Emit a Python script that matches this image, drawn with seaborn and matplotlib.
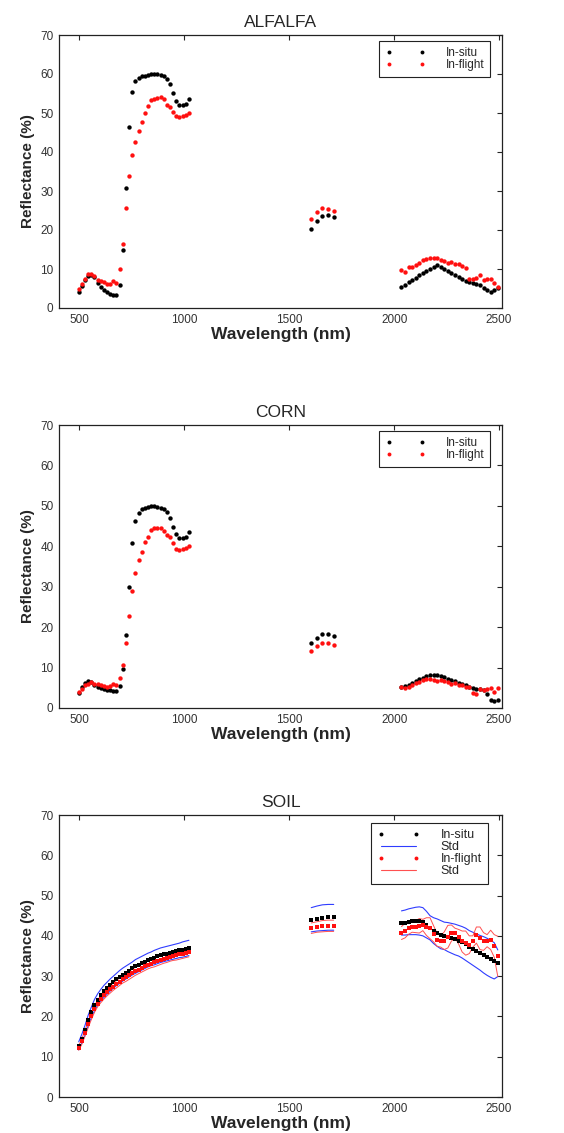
import matplotlib
matplotlib.use("Agg")
import matplotlib.pyplot as plt
from matplotlib.lines import Line2D
import pandas as pd
import seaborn as sns

# band centres (nm) of the three spectral windows
WL_VNIR = [497, 512, 527, 542, 557, 572, 587, 602, 617, 632, 647, 662, 677, 692, 707, 722, 737, 752,
           767, 782, 797, 812, 827, 842, 857, 872, 887, 902, 917, 932, 947, 962, 977, 992, 1007, 1022]
WL_SWIR1 = [1605, 1632, 1658, 1685, 1712]
WL_SWIR2 = [2035, 2052, 2069, 2086, 2103, 2120, 2137, 2154, 2171, 2188, 2205, 2222, 2239, 2256,
            2273, 2290, 2307, 2324, 2341, 2358, 2375, 2392, 2409, 2426, 2443, 2460, 2477, 2494]

# ALFALFA
alfalfa_insitu_vnir = [4.0, 5.6, 7.2, 8.3, 8.5, 8.0, 6.3, 5.3, 4.6, 4.0, 3.6, 3.3, 3.3, 6.0, 14.8, 30.7, 46.3, 55.3,
                       58.3, 59.1, 59.4, 59.6, 59.8, 60.0, 60.1, 60.0, 59.8, 59.4, 58.8, 57.4, 55.2, 53.2, 52.0, 52.0, 52.4, 53.5]
alfalfa_inflight_vnir = [5.0, 6.1, 7.5, 8.7, 8.7, 8.2, 7.3, 7.0, 6.6, 6.2, 6.2, 7.0, 6.5, 10.0, 16.4, 25.6, 33.9, 39.3,
                         42.5, 45.4, 47.7, 50.0, 51.8, 53.3, 53.6, 53.8, 54.0, 53.6, 52.0, 51.5, 50.3, 49.3, 49.0, 49.2, 49.4, 50.0]
alfalfa_insitu_swir1 = [20.2, 22.2, 23.6, 23.8, 23.3]
alfalfa_inflight_swir1 = [22.8, 24.6, 25.6, 25.4, 25.0]
alfalfa_insitu_swir2 = [5.5, 6.0, 6.6, 7.2, 7.8, 8.4, 9.0, 9.6, 10.1, 10.6, 10.9, 10.5, 10.0, 9.5,
                        9.0, 8.5, 8.0, 7.5, 7.0, 6.6, 6.3, 6.1, 5.8, 5.2, 4.6, 4.1, 4.6, 5.2]
alfalfa_inflight_swir2 = [9.8, 9.2, 10.6, 10.6, 11.0, 11.5, 12.4, 12.6, 12.7, 12.8, 12.7, 12.4, 12.0, 11.6,
                          11.7, 11.4, 11.2, 10.8, 10.3, 7.5, 7.4, 7.6, 8.5, 7.2, 7.5, 7.4, 6.4, 5.4]

# CORN
corn_insitu_vnir = [3.7, 5.2, 6.1, 6.6, 6.4, 5.7, 5.2, 4.9, 4.7, 4.5, 4.4, 4.2, 4.1, 5.4, 9.7, 18.0, 30.0, 40.9,
                    46.2, 48.3, 49.1, 49.5, 49.8, 49.9, 49.9, 49.8, 49.5, 49.1, 48.6, 46.9, 44.8, 43.0, 42.0, 42.0, 42.4, 43.5]
corn_inflight_vnir = [4.0, 4.8, 5.6, 6.0, 6.4, 5.9, 5.9, 5.6, 5.4, 5.3, 5.5, 5.9, 5.8, 7.3, 10.6, 16.1, 22.7, 29.0,
                      33.5, 36.6, 38.5, 41.0, 42.4, 44.0, 44.4, 44.6, 44.5, 43.9, 42.8, 42.4, 40.9, 39.3, 39.1, 39.3, 39.6, 40.0]
corn_insitu_swir1 = [16.0, 17.3, 18.2, 18.2, 17.8]
corn_inflight_swir1 = [14.1, 15.4, 16.1, 16.1, 15.7]
corn_insitu_swir2 = [5.2, 5.4, 5.8, 6.3, 6.7, 7.1, 7.5, 7.9, 8.1, 8.2, 8.2, 8.0, 7.6, 7.2,
                     6.9, 6.6, 6.3, 6.0, 5.7, 5.3, 5.0, 4.8, 4.6, 4.5, 3.5, 2.0, 1.8, 1.9]
corn_inflight_swir2 = [5.1, 5.0, 5.3, 5.8, 6.2, 6.5, 6.9, 7.1, 7.2, 6.9, 6.6, 6.9, 6.6, 6.4,
                       6.0, 6.3, 5.8, 5.6, 5.3, 5.2, 3.6, 3.4, 4.6, 4.4, 4.8, 4.9, 4.0, 4.9]

# SOIL (means and standard deviations)
soil_insitu_vnir = [12.7, 14.5, 16.6, 19.0, 21.0, 22.8, 24.2, 25.3, 26.2, 27.0, 27.8, 28.5, 29.2, 29.8, 30.4, 30.9, 31.4, 31.9,
                    32.4, 32.8, 33.2, 33.6, 34.0, 34.3, 34.6, 34.9, 35.2, 35.4, 35.6, 35.8, 36.0, 36.2, 36.4, 36.6, 36.8, 37.0]
soil_insitu_std_vnir = [1.0, 1.1, 1.2, 1.3, 1.3, 1.4, 1.4, 1.4, 1.5, 1.5, 1.5, 1.5, 1.5, 1.6, 1.6, 1.6, 1.6, 1.6,
                        1.7, 1.7, 1.7, 1.7, 1.7, 1.7, 1.8, 1.8, 1.8, 1.8, 1.8, 1.8, 1.8, 1.8, 1.8, 1.9, 1.9, 1.9]
soil_inflight_vnir = [12.2, 13.8, 15.8, 18.0, 20.0, 21.8, 23.2, 24.3, 25.2, 26.0, 26.7, 27.4, 28.0, 28.6, 29.2, 29.7, 30.2, 30.7,
                      31.2, 31.6, 32.0, 32.4, 32.8, 33.1, 33.4, 33.7, 34.0, 34.3, 34.5, 34.8, 35.0, 35.2, 35.4, 35.6, 35.8, 36.0]
soil_inflight_std_vnir = [0.6, 0.7, 0.7, 0.8, 0.8, 0.8, 0.8, 0.9, 0.9, 0.9, 0.9, 0.9, 0.9, 0.9, 0.9, 1.0, 1.0, 1.0,
                          1.0, 1.0, 1.0, 1.0, 1.0, 1.0, 1.1, 1.1, 1.1, 1.1, 1.1, 1.1, 1.1, 1.2, 1.2, 1.2, 1.2, 1.2]
soil_insitu_swir1 = [44.0, 44.3, 44.5, 44.6, 44.6]
soil_insitu_std_swir1 = [3.0, 3.1, 3.2, 3.2, 3.2]
soil_inflight_swir1 = [41.9, 42.2, 42.4, 42.5, 42.5]
soil_inflight_std_swir1 = [1.3, 1.3, 1.4, 1.4, 1.4]
soil_insitu_swir2 = [43.2, 43.3, 43.5, 43.6, 43.7, 43.7, 43.5, 42.8, 42.0, 41.3, 40.8, 40.3, 40.0, 39.7,
                     39.4, 39.1, 38.8, 38.4, 37.9, 37.3, 36.8, 36.3, 35.8, 35.3, 34.8, 34.3, 33.8, 33.2]
soil_insitu_std_swir2 = [3.0, 3.1, 3.2, 3.3, 3.4, 3.5, 3.5, 3.3, 3.0, 3.2, 3.4, 3.5, 3.4, 3.6,
                         3.7, 3.8, 3.8, 3.9, 4.0, 4.0, 4.1, 4.2, 4.3, 4.5, 4.6, 4.6, 4.5, 3.3]
soil_inflight_swir2 = [40.7, 41.3, 41.9, 42.1, 42.3, 42.5, 42.7, 42.3, 41.9, 40.5, 39.0, 38.6, 38.8, 39.8,
                       40.7, 40.7, 39.8, 38.6, 38.2, 37.8, 38.6, 40.2, 39.4, 38.6, 38.8, 39.0, 37.5, 34.9]
soil_inflight_std_swir2 = [1.6, 1.8, 1.5, 1.2, 1.5, 1.8, 1.4, 2.2, 2.6, 2.0, 1.6, 1.4, 2.2, 2.8,
                           2.0, 1.2, 1.8, 2.6, 3.0, 2.2, 1.4, 2.0, 2.8, 2.2, 1.5, 2.4, 2.8, 5.0]

WAVELENGTHS = WL_VNIR + WL_SWIR1 + WL_SWIR2
SEGMENTS = ["vnir"] * len(WL_VNIR) + ["swir1"] * len(WL_SWIR1) + ["swir2"] * len(WL_SWIR2)

BLUE = "#2f3cff"
RED = "#ff1010"
STD_RED = "#ff5050"
FONT = ["Liberation Sans", "DejaVu Sans"]

sns.set_theme(style="white")
plt.rcParams["font.family"] = FONT


def spectrum(vnir, swir1, swir2, std=None):
    df = pd.DataFrame({"wavelength": WAVELENGTHS, "reflectance": vnir + swir1 + swir2, "segment": SEGMENTS})
    if std is not None:
        df["std"] = std[0] + std[1] + std[2]
    return df


def std_bounds(df):
    upper = df.assign(value=df["reflectance"] + df["std"], unit=df["segment"] + "_up")
    lower = df.assign(value=df["reflectance"] - df["std"], unit=df["segment"] + "_lo")
    return pd.concat([upper, lower], ignore_index=True)


def style_axes(ax, title):
    ax.set_xlim(403, 2514)
    ax.set_ylim(0, 70)
    ax.set_xticks([500, 1000, 1500, 2000, 2500])
    ax.set_yticks(range(0, 71, 10))
    ax.tick_params(direction="in", top=True, right=True, length=3.5, width=0.8,
                   labelsize=8.5, labelcolor="#333333", pad=4)
    for sp in ax.spines.values():
        sp.set_color("#222222")
        sp.set_linewidth(0.9)
    ax.set_title(title, fontsize=12.5, pad=6)
    ax.set_xlabel("Wavelength (nm)", fontsize=12.5, fontweight="bold", labelpad=1)
    ax.set_ylabel("Reflectance (%)", fontsize=11, fontweight="bold", labelpad=4)


def dot_handle(color):
    return Line2D([0], [0], ls="none", marker="o", ms=2.8, color=color, mew=0)


def px_axes(fig, top, bottom, left=59, right=502, W=564, H=1133):
    return fig.add_axes([left / W, 1 - bottom / H, (right - left) / W, (bottom - top) / H])


def add_legend(ax, handles, labels, inset_x, inset_y, h, fontsize):
    leg = ax.legend(handles, labels, loc="upper right",
                    bbox_to_anchor=(1 - inset_x / 443, 1 - inset_y / h),
                    numpoints=2, fontsize=fontsize, handlelength=3.4, handletextpad=1.7,
                    labelspacing=0.0, borderpad=0.5, fancybox=False, framealpha=1,
                    edgecolor="#222222", borderaxespad=0)
    leg.get_frame().set_linewidth(0.8)
    return leg


fig = plt.figure(figsize=(5.64, 11.33), dpi=100)

panels = [
    ("ALFALFA", 35, 308,
     spectrum(alfalfa_insitu_vnir, alfalfa_insitu_swir1, alfalfa_insitu_swir2),
     spectrum(alfalfa_inflight_vnir, alfalfa_inflight_swir1, alfalfa_inflight_swir2)),
    ("CORN", 425, 708,
     spectrum(corn_insitu_vnir, corn_insitu_swir1, corn_insitu_swir2),
     spectrum(corn_inflight_vnir, corn_inflight_swir1, corn_inflight_swir2)),
]

for title, top, bottom, insitu, inflight in panels:
    ax = px_axes(fig, top, bottom)
    sns.scatterplot(data=insitu, x="wavelength", y="reflectance", color="black", marker="o",
                    s=10, linewidth=0, ax=ax)
    sns.scatterplot(data=inflight, x="wavelength", y="reflectance", color=RED, marker="o",
                    s=10, linewidth=0, ax=ax)
    style_axes(ax, title)
    add_legend(ax, [dot_handle("black"), dot_handle(RED)], ["In-situ", "In-flight"],
               12, 6, bottom - top, 8.5)

# SOIL panel with standard deviation envelopes
soil_in = spectrum(soil_insitu_vnir, soil_insitu_swir1, soil_insitu_swir2,
                   (soil_insitu_std_vnir, soil_insitu_std_swir1, soil_insitu_std_swir2))
soil_fl = spectrum(soil_inflight_vnir, soil_inflight_swir1, soil_inflight_swir2,
                   (soil_inflight_std_vnir, soil_inflight_std_swir1, soil_inflight_std_swir2))

ax = px_axes(fig, 815, 1097)
sns.scatterplot(data=soil_in, x="wavelength", y="reflectance", color="black", marker="s",
                s=10, linewidth=0, ax=ax, zorder=3)
sns.lineplot(data=std_bounds(soil_in), x="wavelength", y="value", units="unit", estimator=None,
             color=BLUE, lw=0.8, ax=ax, legend=False, zorder=2)
sns.scatterplot(data=soil_fl, x="wavelength", y="reflectance", color=RED, marker="s",
                s=10, linewidth=0, ax=ax, zorder=3)
sns.lineplot(data=std_bounds(soil_fl), x="wavelength", y="value", units="unit", estimator=None,
             color=STD_RED, lw=0.7, ax=ax, legend=False, zorder=2)
style_axes(ax, "SOIL")
handles = [dot_handle("black"), Line2D([0], [0], color=BLUE, lw=0.8),
           dot_handle(RED), Line2D([0], [0], color=STD_RED, lw=0.8)]
add_legend(ax, handles, ["In-situ", "Std", "In-flight", "Std"], 14, 8, 282, 9)

fig.savefig("out.png", dpi=100)
